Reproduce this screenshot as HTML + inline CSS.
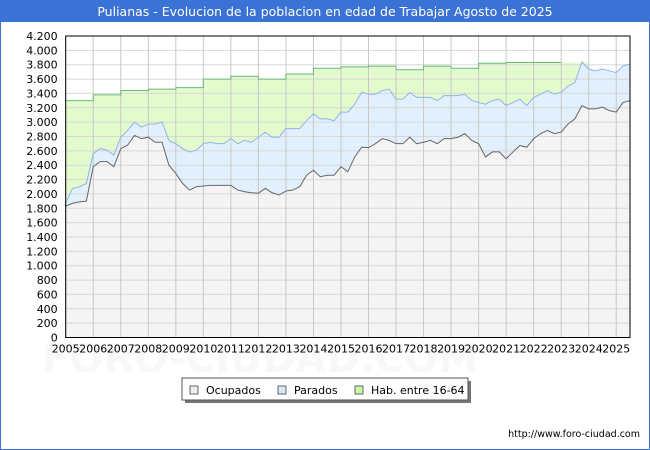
<!DOCTYPE html>
<html><head><meta charset="utf-8"><style>
body{margin:0;background:#fff;}
#wrap{position:relative;width:650px;height:450px;overflow:hidden;font-family:"DejaVu Sans","Liberation Sans",sans-serif;}
</style></head><body>
<div id="wrap">
<svg id="svg" width="650" height="450" xmlns="http://www.w3.org/2000/svg">
<rect x="0.5" y="0.5" width="649" height="449" fill="#fff" stroke="#3a72d6"/>
<rect x="0" y="0" width="650" height="22" fill="#3a72d6"/>
<text x="325" y="16" text-anchor="middle" font-size="12.5" fill="#fff">Pulianas - Evolucion de la poblacion en edad de Trabajar Agosto de 2025</text>
<text x="260" y="372" text-anchor="middle" font-size="40" fill="#f8f8f8" font-weight="bold">FORO-CIUDAD.COM</text>
<g id="plot"></g>
<g>
<rect x="185" y="381" width="286" height="22" fill="#777"/>
<rect x="182" y="378" width="286" height="22" fill="#fff" stroke="#555"/>
<rect x="190" y="386" width="8" height="8" fill="#eeeeee" stroke="#666"/>
<text x="206" y="394" font-size="11" fill="#000">Ocupados</text>
<rect x="278" y="386" width="8" height="8" fill="#d8e9fb" stroke="#666"/>
<text x="294" y="394" font-size="11" fill="#000">Parados</text>
<rect x="355" y="386" width="8" height="8" fill="#ccf5a8" stroke="#666"/>
<text x="371" y="394" font-size="11" fill="#000">Hab. entre 16-64</text>
</g>
<text x="640" y="437" text-anchor="end" font-size="9.5" fill="#000">http://www.foro-ciudad.com</text>
</svg>
</div>
<script>
const years = [2005,2006,2007,2008,2009,2010,2011,2012,2013,2014,2015,2016,2017,2018,2019,2020,2021,2022,2023,2024,2025];
const habValues = [3300,3380,3440,3460,3480,3600,3640,3600,3670,3750,3770,3780,3730,3780,3750,3820,3830,3830,3830,3690,3680];
const ocupados = [1830,1870,1890,1900, 2380,2450,2450,2380, 2630,2680,2815,2770, 2790,2720,2720,2400, 2285,2145,2054,2100, 2110,2120,2120,2120, 2120,2054,2030,2016, 2010,2077,2016,1985, 2040,2054,2100,2260, 2330,2240,2260,2260, 2380,2310,2515,2650, 2645,2700,2770,2745, 2700,2700,2790,2700, 2720,2745,2700,2770, 2770,2790,2840,2745, 2700,2515,2585,2585, 2490,2585,2675,2650, 2770,2840,2885,2840, 2860,2975,3045,3230, 3185,3185,3210,3160, 3140,3275,3300];
const totalActivos = [1880,2075,2100,2145, 2560,2630,2610,2540, 2790,2885,3000,2930, 2975,2975,3000,2745, 2700,2630,2585,2610, 2700,2720,2700,2700, 2770,2700,2745,2720, 2790,2860,2790,2790, 2910,2910,2910,3020, 3115,3045,3045,3020, 3140,3140,3250,3415, 3390,3390,3440,3460, 3320,3320,3415,3345, 3345,3345,3300,3370, 3370,3370,3390,3300, 3275,3250,3300,3320, 3230,3275,3320,3230, 3345,3390,3440,3390, 3415,3505,3550,3840, 3740,3715,3740,3715, 3690,3785,3810];
const yTicks = [0,200,400,600,800,1000,1200,1400,1600,1800,2000,2200,2400,2600,2800,3000,3200,3400,3600,3800,4000,4200];

const L=65.7,R=630,T=36,B=337.5,X0=2005,X1=2025.5,YMAX=4200;
const xs=t=>L+(t-X0)/(X1-X0)*(R-L);
const ys=v=>B-v/YMAX*(B-T);
const NS="http://www.w3.org/2000/svg";
const plot=document.getElementById('plot');
function mk(tag,attrs){const e=document.createElementNS(NS,tag);for(const k in attrs)e.setAttribute(k,attrs[k]);plot.appendChild(e);return e;}
const fmt=v=>v>=1000?Math.floor(v/1000)+"."+String(v%1000).padStart(3,"0"):String(v);

const bg=mk('rect',{x:L,y:T,width:R-L,height:B-T,fill:'#fff'});



const tq=ocupados.map((_,i)=>X0+i*0.25);
let habPts=[];
years.forEach((yr,i)=>{const x0=xs(Math.max(yr,X0)),x1=xs(Math.min(yr+1,X1));habPts.push([x0,ys(habValues[i])],[x1,ys(habValues[i])]);});
function areaPath(pts){return "M"+pts[0][0]+","+B+" "+pts.map(p=>"L"+p[0]+","+p[1]).join(" ")+" L"+pts[pts.length-1][0]+","+B+"Z";}
function linePath(pts){return pts.map((p,i)=>(i?"L":"M")+p[0]+","+p[1]).join(" ");}
const totPts=totalActivos.map((v,i)=>[xs(tq[i]),ys(v)]);
const ocuPts=ocupados.map((v,i)=>[xs(tq[i]),ys(v)]);

const ha=mk('path',{d:areaPath(habPts),fill:'#e3fbcc'});


const ta=mk('path',{d:areaPath(totPts),fill:'#e2f0fd'});


const oa=mk('path',{d:areaPath(ocuPts),fill:'#f4f4f4'});



yTicks.forEach(v=>{
 const g=mk('line',{x1:L,x2:R,y1:ys(v),y2:ys(v),stroke:'#d8d8d8','stroke-width':1});
 
 
 const t=mk('text',{x:L-8,y:ys(v)+4,'text-anchor':'end','font-size':'11',fill:'#000'});
 t.textContent=fmt(v);
 
 
});
years.forEach(yr=>{
 const g=mk('line',{x1:xs(yr),x2:xs(yr),y1:T,y2:B,stroke:'#c8c8c8','stroke-width':1});
 
 
 const t=mk('text',{x:xs(yr),y:B+15,'text-anchor':'middle','font-size':'11',fill:'#000'});
 t.textContent=yr;
 
 
});

const hl=mk('path',{d:linePath(habPts.filter(p=>p[0]<=xs(2023.75))),fill:'none',stroke:'#66bb77','stroke-width':1});


const tl=mk('path',{d:linePath(totPts),fill:'none',stroke:'#90b4ea','stroke-width':1});


const ol=mk('path',{d:linePath(ocuPts),fill:'none',stroke:'#666','stroke-width':1});


const bd=mk('rect',{x:L,y:T,width:R-L,height:B-T,fill:'none',stroke:'#000','stroke-width':1});


</script>
</body></html>
